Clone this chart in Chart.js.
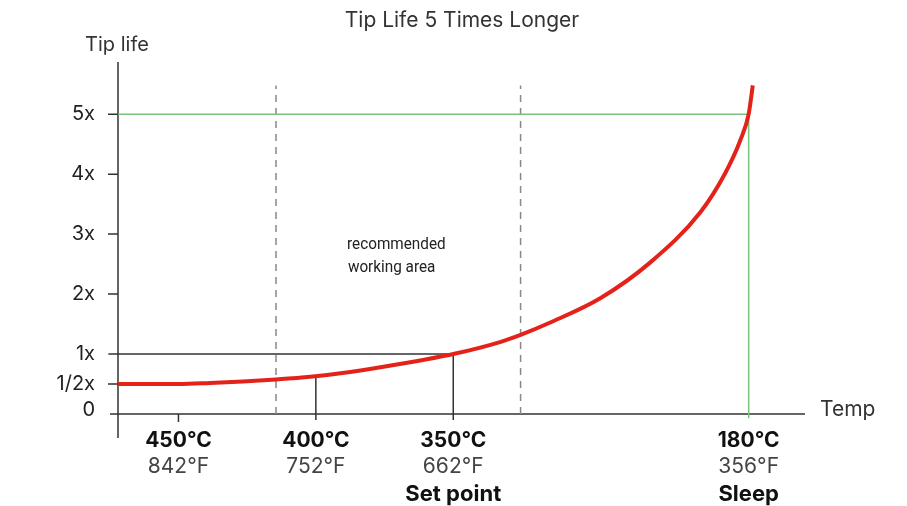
<!DOCTYPE html>
<html>
<head>
    <title>Tip Life 5 Times Longer</title>
    <meta charset="UTF-8">
    <script src="https://cdn.jsdelivr.net/npm/chart.js@4.4.0/dist/chart.umd.min.js"></script>
    <style>
        body { margin: 0; background: #fff; }
        .wrap { width: 907px; height: 506px; }
    </style>
</head>
<body>
    <div class="wrap"><canvas id="tipChart"></canvas></div>

    <script>
        // x axis is in "tick positions": 450C = 0, 400C = 1, 350C = 2, 180C ~ 4.15
        const tickPos = [0, 1, 2, 4.15];
        const tempC = ['450°C', '400°C', '350°C', '180°C'];
        const tempF = ['842°F', '752°F', '662°F', '356°F'];
        const tickNote = ['', '', 'Set point', 'Sleep'];

        const yTicks = [0, 0.5, 1, 2, 3, 4, 5];
        const yLabels = ['0', '1/2x', '1x', '2x', '3x', '4x', '5x'];

        // tip life curve
        const curveX = [-0.44, 0, 0.23, 0.47, 0.71, 0.96, 1.25, 1.61, 2.0, 2.34, 2.49, 2.71, 3.07, 3.43, 3.8, 3.98, 4.09, 4.15, 4.18];
        const curveY = [0.5, 0.5, 0.517, 0.542, 0.575, 0.62, 0.7, 0.833, 1.0, 1.2, 1.32, 1.53, 1.93, 2.52, 3.37, 4.02, 4.57, 5.0, 5.48];

        const zoneEdges = [0.71, 2.49];
        const setPointLife = 1;
        const sleepLife = 5;
        const life400 = 0.63;

        const FONT = 'Inter, "Liberation Sans", Arial, sans-serif';

        function line(pts, color, width, dash) {
            return {
                data: pts.map(p => ({ x: p[0], y: p[1] })),
                borderColor: color,
                borderWidth: width,
                borderDash: dash || [],
                pointRadius: 0,
                tension: 0,
                clip: false
            };
        }

        const axesPlugin = {
            id: 'axes',
            beforeDatasetsDraw(chart) {
                const ctx = chart.ctx;
                const x = chart.scales.x, y = chart.scales.y;
                const x0 = x.getPixelForValue(x.min);
                const y0 = y.getPixelForValue(0);
                ctx.save();
                ctx.strokeStyle = '#333';
                ctx.lineWidth = 1.5;
                ctx.beginPath();
                // y axis, sticking out below
                ctx.moveTo(x0, y.getPixelForValue(y.max));
                ctx.lineTo(x0, y0 + 24);
                // x axis, sticking out left
                ctx.moveTo(x0 - 8, y0);
                ctx.lineTo(x.getPixelForValue(x.max), y0);
                // y tick marks
                yTicks.forEach(v => {
                    if (v === 0 || v === setPointLife) return;
                    const py = y.getPixelForValue(v);
                    ctx.moveTo(x0 - 10, py);
                    ctx.lineTo(x0, py);
                });
                // 450 tick
                const p450 = x.getPixelForValue(tickPos[0]);
                ctx.moveTo(p450, y0);
                ctx.lineTo(p450, y0 + 8);
                ctx.stroke();
                ctx.restore();
            },
            afterDraw(chart) {
                const ctx = chart.ctx;
                const x = chart.scales.x, y = chart.scales.y;
                const x0 = x.getPixelForValue(x.min);
                const y0 = y.getPixelForValue(0);
                ctx.save();
                ctx.textBaseline = 'middle';

                ctx.fillStyle = '#333';
                ctx.font = '21px ' + FONT;
                ctx.textAlign = 'center';
                ctx.fillText('Tip Life 5 Times Longer', 462, 21);
                ctx.font = '20px ' + FONT;
                ctx.fillText('Tip life', 117, 45);

                ctx.fillStyle = '#222';
                ctx.font = '20px ' + FONT;
                ctx.textAlign = 'right';
                yTicks.forEach((v, i) => {
                    const py = v === 0 ? y0 - 4 : y.getPixelForValue(v);
                    ctx.fillText(yLabels[i], x0 - 23, py);
                });

                ctx.textAlign = 'left';
                ctx.fillStyle = '#333';
                ctx.font = '21px ' + FONT;
                ctx.fillText('Temp', 820, y0 - 4);

                ctx.textAlign = 'center';
                tickPos.forEach((p, i) => {
                    const px = x.getPixelForValue(p);
                    ctx.fillStyle = '#111';
                    ctx.font = 'bold 21px ' + FONT;
                    ctx.fillText(tempC[i], px, y0 + 27);
                    ctx.fillStyle = '#444';
                    ctx.font = '21px ' + FONT;
                    ctx.fillText(tempF[i], px, y0 + 53);
                    if (tickNote[i]) {
                        ctx.fillStyle = '#111';
                        ctx.font = 'bold 22px ' + FONT;
                        ctx.fillText(tickNote[i], px, y0 + 80);
                    }
                });

                ctx.fillStyle = '#222';
                ctx.textAlign = 'left';
                ctx.font = '17px Roboto, ' + FONT;
                ctx.save();
                ctx.translate(347, 0);
                ctx.scale(0.9, 1);
                ctx.fillText('recommended', 0, 245);
                ctx.fillText('working area', 1, 268);
                ctx.restore();
                ctx.restore();
            }
        };

        new Chart(document.getElementById('tipChart'), {
            type: 'line',
            data: {
                datasets: [
                    Object.assign(line(curveX.map((v, i) => [v, curveY[i]]), '#e3231a', 4), {
                        cubicInterpolationMode: 'monotone'
                    }),
                    line([[-0.51, setPointLife], [tickPos[2], setPointLife], [tickPos[2], -0.1]], '#333', 1.5),
                    line([[tickPos[1], life400], [tickPos[1], -0.1]], '#333', 1.5),
                    line([[-0.44, sleepLife], [tickPos[3], sleepLife], [tickPos[3], -0.07]], '#79c27a', 1.5),
                    line([[zoneEdges[0], 0], [zoneEdges[0], 5.48]], '#888', 1.5, [7, 6]),
                    line([[zoneEdges[1], 0], [zoneEdges[1], 5.48]], '#888', 1.5, [7, 6])
                ]
            },
            options: {
                responsive: true,
                maintainAspectRatio: false,
                animation: false,
                layout: { padding: { left: 118, right: 102, top: 62, bottom: 92 } },
                plugins: {
                    legend: { display: false },
                    tooltip: { enabled: false },
                    title: { display: false }
                },
                scales: {
                    x: { type: 'linear', display: false, min: -0.44, max: 4.56 },
                    y: { type: 'linear', display: false, min: 0, max: 5.87 }
                }
            },
            plugins: [axesPlugin]
        });
    </script>
</body>
</html>
